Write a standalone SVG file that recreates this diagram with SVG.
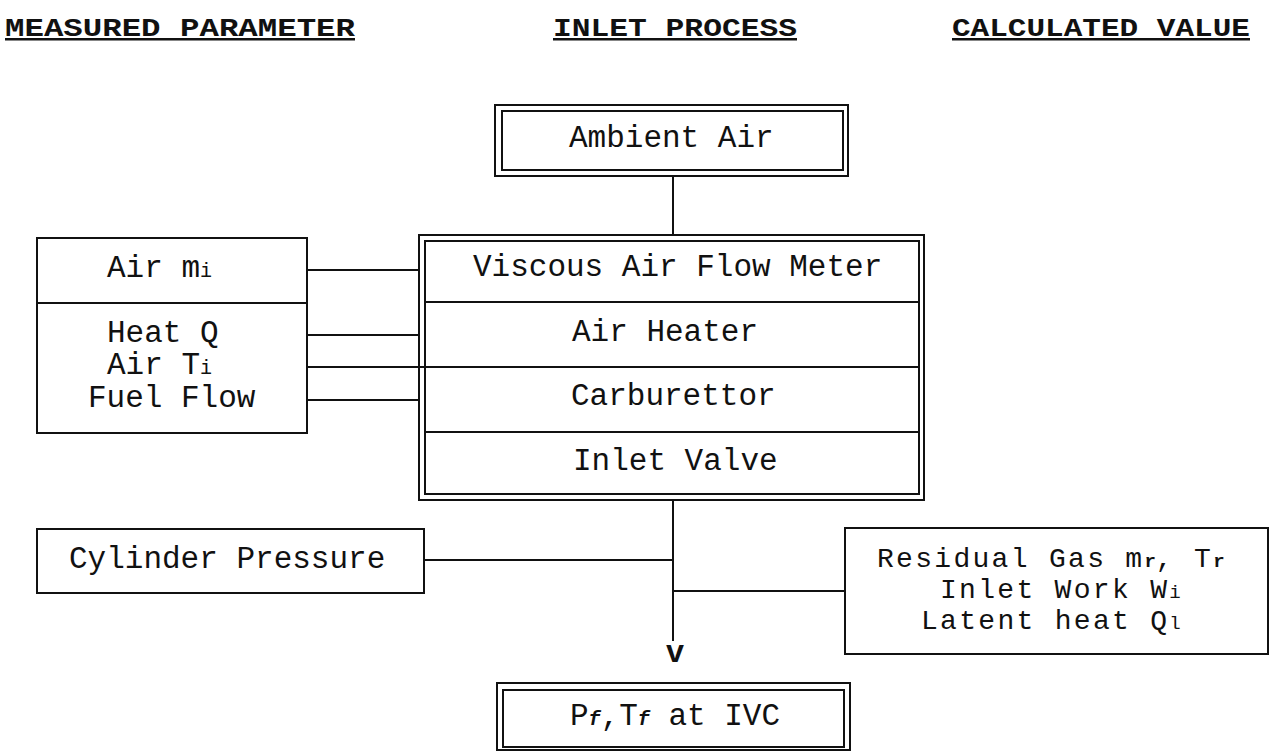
<svg xmlns="http://www.w3.org/2000/svg" width="1277" height="752" viewBox="0 0 1277 752">
<style>
.box{fill:none;stroke:#111;stroke-width:2}
.ln{fill:none;stroke:#111;stroke-width:2}
.t{font-family:"Liberation Mono","Courier New",monospace;font-size:31px;fill:#111}
.r{font-size:28px;letter-spacing:2.3px}
.h{font-family:"Liberation Mono","Courier New",monospace;font-size:25px;font-weight:bold;fill:#111;text-decoration:underline}
.sub{font-size:20px}
.subb{font-size:20px;font-weight:bold}
.rs{font-size:19px;letter-spacing:0}
.rsb{font-size:19px;font-weight:bold;letter-spacing:0}
</style>
<rect width="1277" height="752" fill="#fff"/>
<g id="headers">
<text class="h" x="5" y="36" textLength="350" lengthAdjust="spacingAndGlyphs">MEASURED PARAMETER</text>
<text class="h" x="553" y="36" textLength="244" lengthAdjust="spacingAndGlyphs">INLET PROCESS</text>
<text class="h" x="952" y="36" textLength="298" lengthAdjust="spacingAndGlyphs">CALCULATED VALUE</text>
</g>
<g id="connectors">
<line class="ln" x1="673" y1="176" x2="673" y2="235"/>
<line class="ln" x1="307" y1="270" x2="419" y2="270"/>
<line class="ln" x1="307" y1="335" x2="419" y2="335"/>
<line class="ln" x1="307" y1="367" x2="425" y2="367"/>
<line class="ln" x1="307" y1="400" x2="419" y2="400"/>
<line class="ln" x1="424" y1="560" x2="673" y2="560"/>
<line class="ln" x1="673" y1="500" x2="673" y2="641"/>
<line class="ln" x1="673" y1="591" x2="845" y2="591"/>
<text class="t" x="675" y="662" text-anchor="middle" font-weight="bold" font-size="26">v</text>
</g>
<g id="ambient-air">
<rect class="box" x="495" y="105" width="353" height="71"/>
<rect class="box" x="502" y="111" width="341" height="59"/>
<text class="t" x="569" y="147">Ambient Air</text>
</g>
<g id="inlet-process">
<rect class="box" x="419" y="235" width="505" height="265"/>
<rect class="box" x="425" y="241" width="494" height="253"/>
<line class="ln" x1="425" y1="302" x2="919" y2="302"/>
<line class="ln" x1="425" y1="367" x2="919" y2="367"/>
<line class="ln" x1="425" y1="432" x2="919" y2="432"/>
<text class="t" x="473" y="276">Viscous Air Flow Meter</text>
<text class="t" x="572" y="341">Air Heater</text>
<text class="t" x="571" y="405">Carburettor</text>
<text class="t" x="573" y="470">Inlet Valve</text>
</g>
<g id="measured-air">
<rect class="box" x="37" y="238" width="270" height="195"/>
<line class="ln" x1="37" y1="303" x2="307" y2="303"/>
<text class="t" x="107" y="277">Air m<tspan class="sub">i</tspan></text>
<text class="t" x="107" y="342">Heat Q</text>
<text class="t" x="107" y="374">Air T<tspan class="sub">i</tspan></text>
<text class="t" x="88" y="407">Fuel Flow</text>
</g>
<g id="cylinder-pressure">
<rect class="box" x="37" y="529" width="387" height="64"/>
<text class="t" x="69" y="568">Cylinder Pressure</text>
</g>
<g id="calculated">
<rect class="box" x="845" y="528" width="423" height="126"/>
<text class="t r" x="877" y="567">Residual Gas m<tspan class="rsb">r</tspan>, T<tspan class="rsb">r</tspan></text>
<text class="t r" x="940" y="598">Inlet Work W<tspan class="rs">i</tspan></text>
<text class="t r" x="921" y="629">Latent heat Q<tspan class="rs">l</tspan></text>
</g>
<g id="ivc-state">
<rect class="box" x="497" y="683" width="353" height="67"/>
<rect class="box" x="503" y="690" width="341" height="57"/>
<text class="t" x="570" y="725">P<tspan class="subb" font-style="italic">f</tspan>,T<tspan class="subb" font-style="italic">f</tspan> at IVC</text>
</g>
</svg>
